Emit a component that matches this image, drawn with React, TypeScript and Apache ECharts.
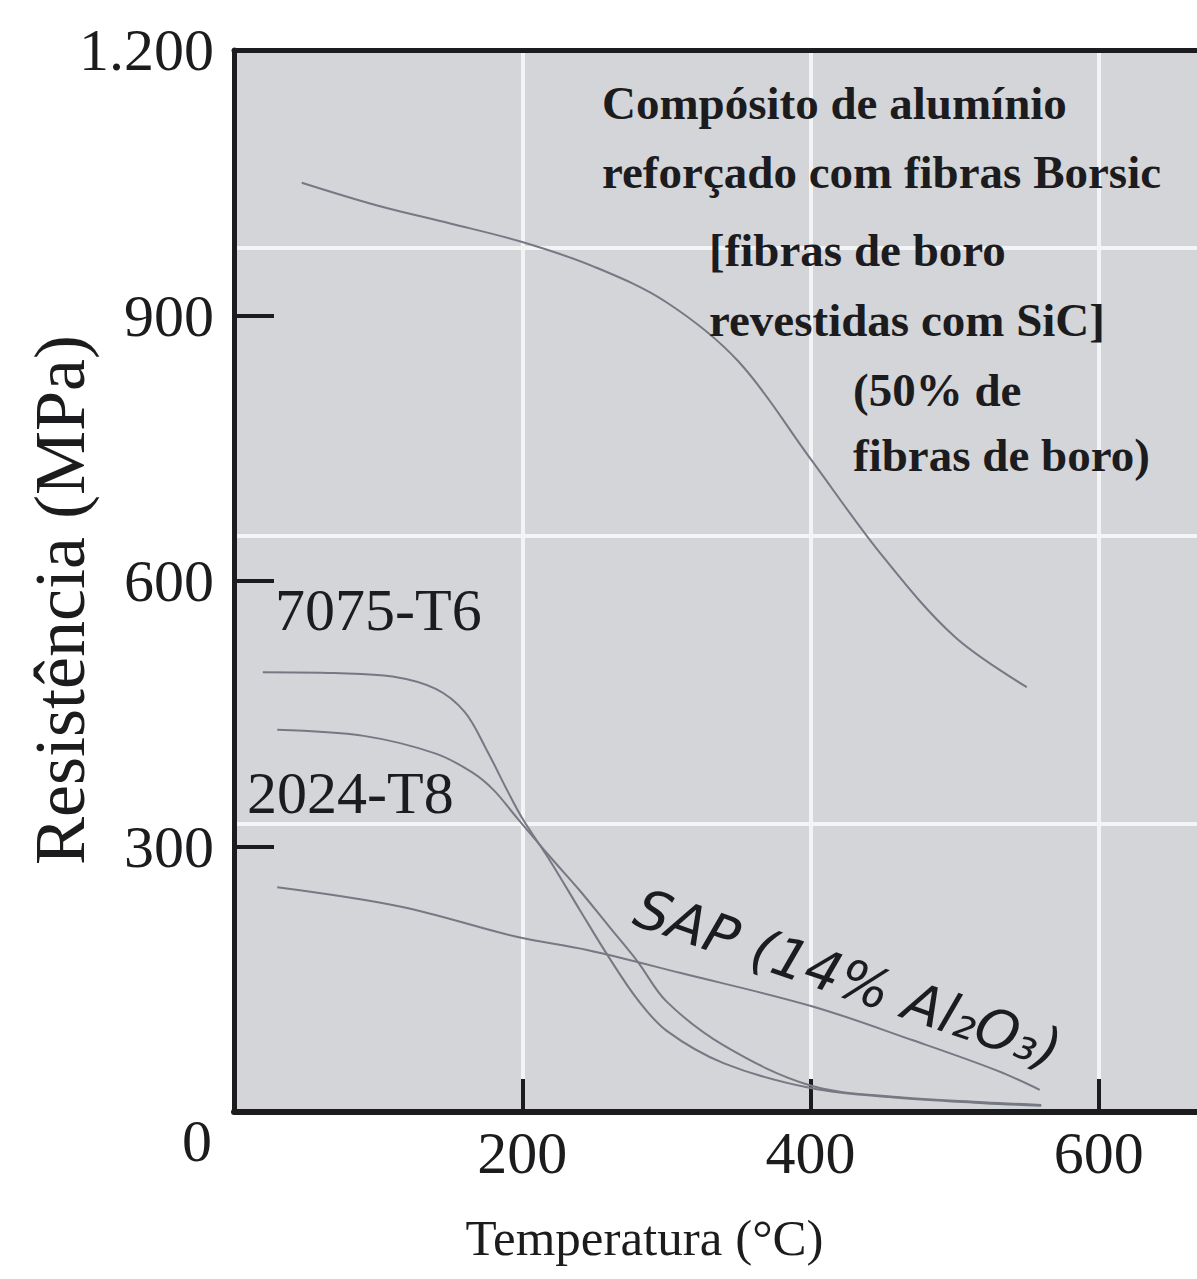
import React, { useEffect, useRef } from "react";
import * as echarts from "echarts";

// ---- data ----
const xTicks = [0, 200, 400, 600];
const yTicks = [0, 300, 600, 900, 1200];

const borsicTemp = [47, 100, 150, 200, 250, 300, 350, 400, 450, 500, 550];
const borsicStrength = [1050, 1024, 1004, 983, 955, 915, 848, 738, 628, 537, 480];

const t7075Temp = [20, 70, 110, 140, 160, 175, 190, 200, 220, 240, 260, 280, 300, 340, 400, 460, 520, 560];
const t7075Strength = [497, 496, 492, 478, 452, 410, 362, 332, 282, 228, 175, 127, 92, 55, 27, 16, 10, 7];

const t2024Temp = [30, 90, 140, 165, 180, 196, 220, 240, 260, 280, 300, 340, 400, 460, 520, 560];
const t2024Strength = [432, 425, 405, 384, 364, 333, 287, 250, 210, 170, 125, 75, 30, 17, 11, 8];

const sapTemp = [30, 116, 196, 245, 310, 402, 471, 529, 559];
const sapStrength = [254, 232, 198, 183, 157, 119, 81, 47, 25];

const seriesNames = ["Borsic", "7075-T6", "2024-T8", "SAP (14% Al₂O₃)"];
const annotationLines = [
  "Compósito de alumínio",
  "reforçado com fibras Borsic",
  "[fibras de boro",
  "revestidas com SiC]",
  "(50% de",
  "fibras de boro)",
];

const FONT = '"Liberation Serif", "Times New Roman", serif';
const INK = "#1c1c1e";
const CURVE = "#767983";

function pairs(xs: number[], ys: number[]) {
  return xs.map((x, i) => [x, ys[i]]);
}

export default function App() {
  const ref = useRef<HTMLDivElement>(null);

  useEffect(() => {
    document.body.style.margin = "0";
    if (!ref.current) return;
    const chart = echarts.init(ref.current, undefined, { renderer: "svg" });

    const lineSeries = (name: string, data: number[][]) => ({
      type: "line",
      name,
      data,
      smooth: 0.35,
      showSymbol: false,
      symbol: "none",
      lineStyle: { color: CURVE, width: 2 },
      z: 3,
    });

    const txt = (text: string, x: number, y: number, size: number, extra: any = {}) => ({
      type: "text",
      x,
      y,
      z: 10,
      style: {
        text,
        fontFamily: FONT,
        fontSize: size,
        fill: INK,
        align: "left",
        verticalAlign: "middle",
        ...extra,
      },
    });

    const option: any = {
      animation: false,
      backgroundColor: "#ffffff",
      grid: {
        left: 234,
        top: 50,
        width: 1009,
        height: 1062,
        show: true,
        backgroundColor: "#d4d5d9",
        borderWidth: 0,
        containLabel: false,
        outerBoundsMode: "none",
      },
      xAxis: [
        {
          type: "value",
          min: 0,
          max: 700,
          interval: 200,
          position: "bottom",
          axisLine: { show: true, onZero: false, lineStyle: { color: INK, width: 6 } },
          axisTick: { show: true, inside: true, length: 33, lineStyle: { color: INK, width: 4 } },
          axisLabel: {
            fontFamily: FONT,
            fontSize: 60,
            color: INK,
            margin: 11,
            showMaxLabel: false,
            formatter: (v: number) => (xTicks.includes(v) && v !== 0 ? String(v) : ""),
          },
          splitLine: { show: true, lineStyle: { color: "#f3f4f6", width: 4 } },
          name: "Temperatura (°C)",
          nameLocation: "middle",
          nameGap: 100,
          nameMoveOverlap: false,
          nameTextStyle: {
            fontFamily: FONT,
            fontSize: 51,
            color: INK,
            padding: [0, 188, 0, 0],
          },
        },
        {
          type: "value",
          min: 0,
          max: 700,
          position: "top",
          axisLine: { show: true, onZero: false, lineStyle: { color: INK, width: 5 } },
          axisTick: { show: false },
          axisLabel: { show: false },
          splitLine: { show: false },
        },
      ],
      yAxis: [
        {
          type: "value",
          min: 0,
          max: 1200,
          interval: 300,
          position: "left",
          axisLine: { show: true, onZero: false, lineStyle: { color: INK, width: 5 } },
          axisTick: { show: true, inside: true, length: 40, lineStyle: { color: INK, width: 4 } },
          axisLabel: {
            fontFamily: FONT,
            fontSize: 60,
            color: INK,
            margin: 20,
            formatter: (v: number) =>
              !yTicks.includes(v) || v === 0
                ? ""
                : v >= 1000
                ? `${Math.floor(v / 1000)}.${String(v % 1000).padStart(3, "0")}`
                : String(v),
          },
          splitLine: { show: false },
          name: "Resistência (MPa)",
          nameLocation: "middle",
          nameGap: 138,
          nameMoveOverlap: false,
          nameTextStyle: {
            fontFamily: FONT,
            fontSize: 72,
            color: INK,
            padding: [0, 38, 0, 0],
          },
        },
        {
          // background square grid of the original figure
          type: "value",
          min: 0,
          max: 1062 / 288.25,
          interval: 1,
          position: "right",
          axisLine: { show: false },
          axisTick: { show: false },
          axisLabel: { show: false },
          splitLine: { show: true, lineStyle: { color: "#f3f4f6", width: 4 } },
        },
      ],
      series: [
        lineSeries(seriesNames[0], pairs(borsicTemp, borsicStrength)),
        lineSeries(seriesNames[1], pairs(t7075Temp, t7075Strength)),
        lineSeries(seriesNames[2], pairs(t2024Temp, t2024Strength)),
        lineSeries(seriesNames[3], pairs(sapTemp, sapStrength)),
      ],
      graphic: [
        txt("0", 212, 1141, 60, { align: "right" }),
        txt(seriesNames[1], 275, 610, 60),
        txt(seriesNames[2], 247, 793, 60),
        txt(annotationLines[0], 602, 103, 47, { fontWeight: "bold" }),
        txt(annotationLines[1], 602, 172, 47, { fontWeight: "bold" }),
        txt(annotationLines[2], 709, 250, 47, { fontWeight: "bold" }),
        txt(annotationLines[3], 709, 320, 47, { fontWeight: "bold" }),
        txt(annotationLines[4], 853, 390, 47, { fontWeight: "bold" }),
        txt(annotationLines[5], 853, 455, 47, { fontWeight: "bold" }),
        {
          type: "text",
          x: 646,
          y: 880,
          rotation: (-19 * Math.PI) / 180,
          z: 10,
          style: {
            text: seriesNames[3],
            fontFamily: '"DejaVu Sans", sans-serif',
            fontStyle: "italic",
            fontSize: 55,
            fill: INK,
            align: "left",
            verticalAlign: "top",
          },
        },
      ],
    };

    chart.setOption(option);
    return () => chart.dispose();
  }, []);

  return <div ref={ref} style={{ width: 1197, height: 1279 }} />;
}
